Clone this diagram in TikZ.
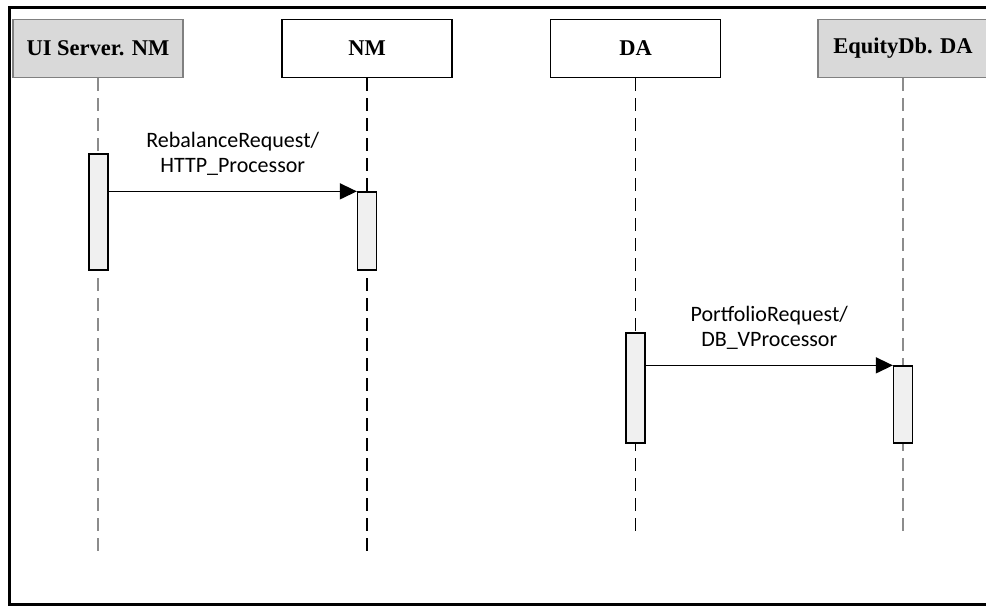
\documentclass[tikz,border=0pt]{standalone}
\usepackage{fontspec}
\setmainfont{Liberation Serif}
\newfontfamily\lblfont{Carlito}
\usetikzlibrary{arrows.meta}
\definecolor{hdrgrey}{HTML}{D9D9D9}
\definecolor{hdredge}{HTML}{808080}
\definecolor{lifegrey}{HTML}{8C8C8C}
\definecolor{actfill}{HTML}{F0F0F0}
\tikzset{
  header/.style={draw=black, line width=1.2pt, fill=white, minimum width=170pt,
    minimum height=58pt, inner sep=0pt, font=\fontsize{22.5}{26}\selectfont\bfseries},
  greyheader/.style={header, fill=hdrgrey, draw=hdredge},
  lifeline/.style={line width=1.4pt, dash pattern=on 13pt off 7pt},
  activation/.style={draw=black, line width=1.3pt, fill=actfill, minimum width=19pt,
    inner sep=0pt},
  msg/.style={line width=1.4pt, -{Triangle[length=17pt,width=16pt]}},
  msglabel/.style={font=\lblfont\fontsize{22}{25}\selectfont, align=center,
    anchor=south, inner sep=0pt, yshift=15pt}
}
\begin{document}
\begin{tikzpicture}[x=1pt,y=-1pt]
\useasboundingbox (0,0) rectangle (986,606);
\begin{scope}
\clip (0,0) rectangle (986,606);
% outer frame, open to the right
\draw[line width=3pt] (995,7.5) -- (9.5,7.5) -- (9.5,604.5) -- (995,604.5);

% participants
\node[greyheader] (ui) at (98,48.5) {UI Server. NM};
\node[header]     (nm) at (367,48.5) {NM};
\node[header]     (da) at (635.5,48.5) {DA};
\node[greyheader] (eq) at (903,48.5) {EquityDb. DA};

% lifeline ends
\coordinate (uiend) at (98,558);
\coordinate (nmend) at (367,555);
\coordinate (daend) at (635.5,538);
\coordinate (eqend) at (903,538);

\draw[lifeline, lifegrey] (ui.south) -- (uiend);
\draw[lifeline]           (nm.south) -- (nmend);
\draw[lifeline]           (da.south) -- (daend);
\draw[lifeline, lifegrey] (eq.south) -- (eqend);

% activation bars
\node[activation, minimum height=116pt] (uiact) at (98.5,212) {};
\node[activation, minimum height=78pt]  (nmact) at (367,231) {};
\node[activation, minimum height=110pt] (daact) at (635.5,388) {};
\node[activation, minimum height=77pt]  (eqact) at (903,404.5) {};

% messages
\draw[msg] (uiact.east |- nmact.north west) -- (nmact.north west)
  node[midway, msglabel] {RebalanceRequest/\\HTTP\_Processor};
\draw[msg] (daact.east |- eqact.north west) -- (eqact.north west)
  node[midway, msglabel] {PortfolioRequest/\\DB\_VProcessor};
\end{scope}
\end{tikzpicture}
\end{document}
